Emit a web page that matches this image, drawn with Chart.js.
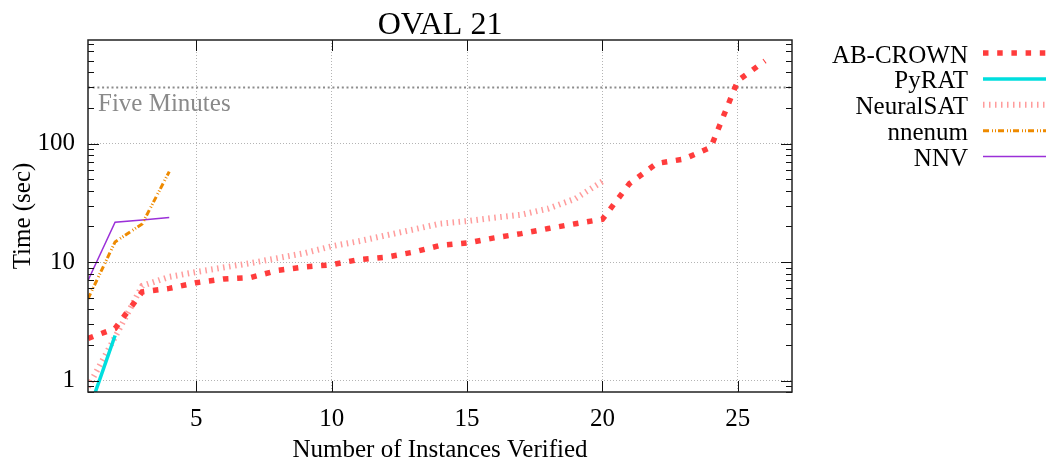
<!DOCTYPE html>
<html>
<head>
<meta charset="utf-8">
<script src="https://cdn.jsdelivr.net/npm/chart.js@4.4.1/dist/chart.umd.min.js"></script>
<style>
  html, body { margin: 0; padding: 0; background: #fff; }
</style>
</head>
<body>
<canvas id="grafico" width="1054" height="468"></canvas>
<script>
// Datos (tiempo acumulado por instancia verificada)
const instances = [1, 2, 3, 4, 5, 6, 7, 8, 9, 10, 11, 12, 13, 14, 15, 16, 17, 18, 19, 20, 21, 22, 23, 24, 25, 26];
const abCrown   = [2.27, 2.75, 5.6, 6.0, 6.7, 7.2, 7.4, 8.5, 9.1, 9.5, 10.5, 11.0, 12.1, 13.8, 14.5, 16.0, 17.4, 19.2, 21.1, 23.0, 46, 68, 74, 93, 340, 500];
const pyrat     = [0.53, 2.4];
const neuralSat = [0.88, 2.33, 6.3, 7.5, 8.25, 9.0, 9.8, 10.8, 11.9, 13.6, 15.0, 16.8, 18.8, 21.1, 22.2, 23.7, 25.1, 28.3, 34.3, 48];
const nnenum    = [4.9, 14.8, 21, 58];
const nnv       = [7.0, 21.7, 22.7, 23.8];

const seriesNames = ['AB-CROWN', 'PyRAT', 'NeuralSAT', 'nnenum', 'NNV'];
const xTicks = [5, 10, 15, 20, 25];
const yMajorTicks = [1, 10, 100];
const fiveMinutes = 300;

const FONT = "'Liberation Serif', 'Times New Roman', serif";

// Marcas menores del eje logaritmico
const yAllTicks = [];
[0.1, 1, 10, 100].forEach(d => {
    for (let m = 1; m <= 9; m++) {
        const v = +(d * m).toPrecision(3);
        if (v >= 0.8 && v <= 750) yAllTicks.push(v);
    }
});

function toPoints(values) {
    return values.map((v, i) => ({ x: instances[i], y: v }));
}

const styles = [
    { color: '#ff3c3c', width: 5.5, dash: [5.5, 8.7] },
    { color: '#00dede', width: 3.5, dash: [] },
    { color: '#ff9c9c', width: 6, dash: [1.5, 4.5] },
    { color: '#ee8a00', width: 3, dash: [6, 3, 1, 2, 1, 2] },
    { color: '#9b30d8', width: 1.5, dash: [] }
];

const allSeries = [abCrown, pyrat, neuralSat, nnenum, nnv];

const datasets = allSeries.map((values, i) => ({
    label: seriesNames[i],
    data: toPoints(values),
    borderColor: styles[i].color,
    borderWidth: styles[i].width,
    borderDash: styles[i].dash,
    borderCapStyle: 'butt',
    borderJoinStyle: 'miter',
    pointRadius: 0,
    tension: 0,
    fill: false,
    clip: 0
}));

// Linea de cinco minutos y su texto
const fiveMinutesPlugin = {
    id: 'fiveMinutes',
    beforeDatasetsDraw(chart) {
        const { ctx, chartArea: a, scales: { y } } = chart;
        const py = Math.round(y.getPixelForValue(fiveMinutes)) + 0.5;
        ctx.save();
        ctx.strokeStyle = '#8c8c8c';
        ctx.lineWidth = 2;
        ctx.setLineDash([2, 2.7]);
        ctx.beginPath();
        ctx.moveTo(a.left, py);
        ctx.lineTo(a.right, py);
        ctx.stroke();
        ctx.setLineDash([]);
        ctx.fillStyle = '#8a8a8a';
        ctx.font = '25px ' + FONT;
        ctx.textAlign = 'left';
        ctx.textBaseline = 'alphabetic';
        ctx.fillText('Five Minutes', a.left + 10, py + 23);
        ctx.restore();
    }
};

// Marco, marcas interiores, titulo y leyenda al estilo gnuplot
const framePlugin = {
    id: 'frame',
    afterDraw(chart) {
        const { ctx, chartArea: a, scales: { x, y } } = chart;
        ctx.save();
        ctx.strokeStyle = '#111';
        ctx.lineWidth = 1;
        ctx.beginPath();
        yAllTicks.forEach(v => {
            const py = Math.round(y.getPixelForValue(v)) + 0.5;
            const len = yMajorTicks.includes(v) ? 11 : 6;
            ctx.moveTo(a.left, py); ctx.lineTo(a.left + len, py);
            ctx.moveTo(a.right, py); ctx.lineTo(a.right - len, py);
        });
        xTicks.forEach(v => {
            const px = Math.round(x.getPixelForValue(v)) + 0.5;
            ctx.moveTo(px, a.bottom); ctx.lineTo(px, a.bottom - 11);
            ctx.moveTo(px, a.top); ctx.lineTo(px, a.top + 11);
        });
        ctx.stroke();

        ctx.lineWidth = 1.5;
        ctx.strokeStyle = '#222';
        ctx.strokeRect(a.left, a.top, a.right - a.left, a.bottom - a.top);

        // Titulo
        ctx.fillStyle = '#000';
        ctx.font = '32px ' + FONT;
        ctx.textAlign = 'center';
        ctx.textBaseline = 'alphabetic';
        ctx.fillText('OVAL 21', (a.left + a.right) / 2, 34);

        // Leyenda
        ctx.font = '25px ' + FONT;
        ctx.textAlign = 'right';
        chart.data.datasets.forEach((ds, i) => {
            const rowY = 53 + i * 25.9;
            ctx.fillStyle = '#000';
            ctx.fillText(ds.label, 968, rowY + 9.5);
            ctx.strokeStyle = ds.borderColor;
            ctx.lineWidth = ds.borderWidth;
            ctx.lineCap = 'butt';
            ctx.setLineDash(ds.borderDash);
            ctx.beginPath();
            ctx.moveTo(983, rowY);
            ctx.lineTo(1046, rowY);
            ctx.stroke();
            ctx.setLineDash([]);
        });
        ctx.restore();
    }
};

const ctx = document.getElementById('grafico').getContext('2d');
const miGrafico = new Chart(ctx, {
    type: 'line',
    data: { datasets },
    options: {
        responsive: false,
        animation: false,
        layout: { padding: { top: 40, right: 262, bottom: 0, left: 0 } },
        plugins: {
            legend: { display: false },
            title: { display: false },
            tooltip: { enabled: false }
        },
        scales: {
            x: {
                type: 'linear',
                min: 1,
                max: 27,
                bounds: 'data',
                afterBuildTicks: (scale) => { scale.ticks = xTicks.map(v => ({ value: v })); },
                afterFit: (scale) => { scale.height = 76; },
                grid: { color: '#b4b4b4', lineWidth: 1, drawTicks: false },
                border: { display: false, dash: [1, 2] },
                ticks: {
                    color: '#000',
                    font: { family: FONT, size: 25 },
                    padding: 12,
                    maxRotation: 0,
                    callback: (v) => String(v)
                },
                title: {
                    display: true,
                    text: 'Number of Instances Verified',
                    color: '#000',
                    font: { family: FONT, size: 25 },
                    padding: { top: 0, bottom: 3 }
                }
            },
            y: {
                type: 'logarithmic',
                min: 0.8,
                max: 750,
                afterBuildTicks: (scale) => { scale.ticks = yAllTicks.map(v => ({ value: v })); },
                afterFit: (scale) => { scale.width = 88; },
                grid: {
                    color: (c) => (c.tick && yMajorTicks.includes(c.tick.value)) ? '#b4b4b4' : 'rgba(0,0,0,0)',
                    lineWidth: 1,
                    drawTicks: false
                },
                border: { display: false, dash: [1, 2] },
                ticks: {
                    color: '#000',
                    font: { family: FONT, size: 25 },
                    padding: 13,
                    autoSkip: false,
                    callback: (v) => yMajorTicks.includes(v) ? String(v) : ''
                },
                title: {
                    display: true,
                    text: 'Time (sec)',
                    color: '#000',
                    font: { family: FONT, size: 25 },
                    padding: { top: 8, bottom: 0 }
                }
            }
        }
    },
    plugins: [fiveMinutesPlugin, framePlugin]
});
</script>
</body>
</html>
